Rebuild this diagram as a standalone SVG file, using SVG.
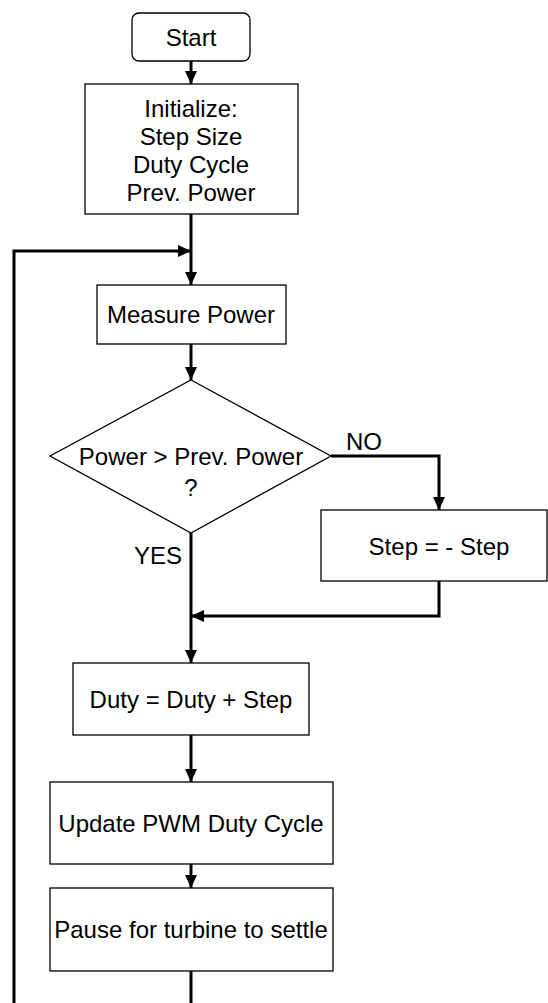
<svg xmlns="http://www.w3.org/2000/svg" width="548" height="1003" viewBox="0 0 548 1003">
<style>
.box{fill:#fff;stroke:#000;stroke-width:1.3}
.t{font-family:"Liberation Sans",Arial,sans-serif;font-size:24px;fill:#000;text-anchor:middle}
.c{fill:none;stroke:#000;stroke-width:3}
</style>
<defs>
<marker id="ah" markerUnits="userSpaceOnUse" markerWidth="14" markerHeight="12" refX="13" refY="6" orient="auto">
<path d="M0,0 L13,6 L0,12 z" fill="#000"/>
</marker>
</defs>
<rect width="548" height="1003" fill="#fff"/>
<g id="connectors">
<line class="c" x1="191" y1="61" x2="191" y2="84" marker-end="url(#ah)"/>
<line class="c" x1="191" y1="214" x2="191" y2="285" marker-end="url(#ah)"/>
<polyline class="c" points="14,1003 14,251 191,251" marker-end="url(#ah)"/>
<line class="c" x1="191" y1="344" x2="191" y2="380" marker-end="url(#ah)"/>
<polyline class="c" points="331,456 439,456 439,510" marker-end="url(#ah)"/>
<polyline class="c" points="439,581 439,616 191,616" marker-end="url(#ah)"/>
<line class="c" x1="191" y1="533" x2="191" y2="663" marker-end="url(#ah)"/>
<line class="c" x1="191" y1="735" x2="191" y2="782" marker-end="url(#ah)"/>
<line class="c" x1="191" y1="864" x2="191" y2="888" marker-end="url(#ah)"/>
<line class="c" x1="191" y1="971" x2="191" y2="1003"/>
<text class="t" x="364" y="450">NO</text>
<text class="t" x="158" y="564">YES</text>
</g>
<g id="start">
<rect class="box" x="132" y="13" width="118" height="48" rx="7"/>
<text class="t" x="191" y="46">Start</text>
</g>
<g id="init">
<rect class="box" x="85" y="84" width="213" height="130"/>
<text class="t" x="191" y="117">Initialize:</text>
<text class="t" x="191" y="145">Step Size</text>
<text class="t" x="191" y="173">Duty Cycle</text>
<text class="t" x="191" y="201">Prev. Power</text>
</g>
<g id="measure">
<rect class="box" x="97" y="285" width="189" height="59"/>
<text class="t" x="191" y="323">Measure Power</text>
</g>
<g id="decision">
<polygon class="box" points="191,380 331,456 191,533 50,456"/>
<text class="t" x="191" y="465">Power &gt; Prev. Power</text>
<text class="t" x="191" y="496">?</text>
</g>
<g id="negate">
<rect class="box" x="321" y="510" width="226" height="71"/>
<text class="t" x="439" y="555">Step = - Step</text>
</g>
<g id="duty">
<rect class="box" x="73" y="663" width="236" height="72"/>
<text class="t" x="191" y="708">Duty = Duty + Step</text>
</g>
<g id="update">
<rect class="box" x="50" y="782" width="283" height="82"/>
<text class="t" x="191" y="832">Update PWM Duty Cycle</text>
</g>
<g id="pause">
<rect class="box" x="50" y="888" width="283" height="83"/>
<text class="t" x="191" y="938">Pause for turbine to settle</text>
</g>
</svg>
